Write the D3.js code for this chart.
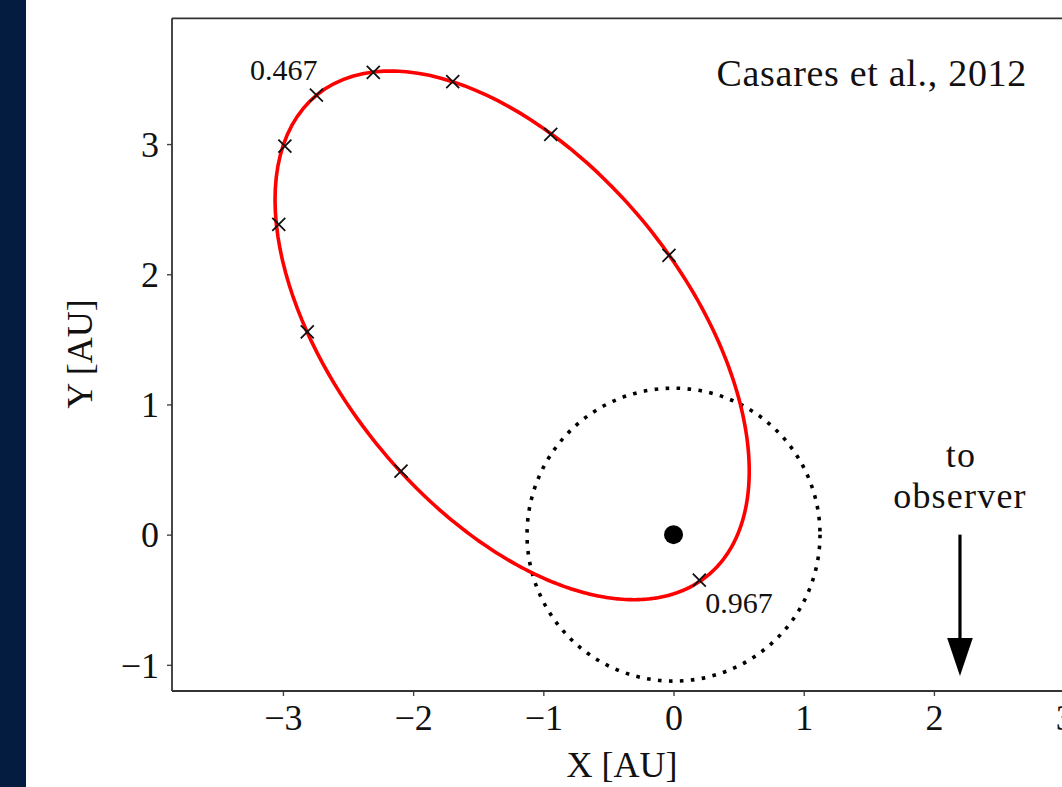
<!DOCTYPE html>
<html>
<head>
<meta charset="utf-8">
<script src="https://cdn.jsdelivr.net/npm/d3@7"></script>
<style>
  body { margin: 0; background: #ffffff; overflow: hidden; }
  svg { display: block; }
  text { font-family: "Liberation Serif", "Times New Roman", serif; fill: #111; }
</style>
</head>
<body>
<svg id="chart" width="1062" height="787"></svg>
<script>
// Orbital elements of the binary (Casares et al., 2012)
const semiMajorAxis = 2.379;      // AU
const eccentricity = 0.828;
const periastronAngleDeg = -51;   // direction of periastron in the X–Y plane
const dottedCircleRadius = 1.125; // AU, centred on the star

// Orbital phase markers (every 0.1 in phase)
const markerPhase = [0.067, 0.167, 0.267, 0.367, 0.467, 0.567, 0.667, 0.767, 0.867, 0.967];
const markerX = [-0.035, -0.943, -1.696, -2.306, -2.743, -2.985, -3.032, -2.813, -2.093, 0.198];
const markerY = [2.145, 3.074, 3.479, 3.551, 3.376, 2.985, 2.383, 1.558, 0.488, -0.349];
const labelledPhases = ["0.467", "0.967"];

// Star position and observer direction
const starX = 0, starY = 0;
const observerArrowX = 2.2, observerArrowY0 = 0, observerArrowY1 = -1.085;

// Axes
const xTicks = [-3, -2, -1, 0, 1, 2, 3];
const yTicks = [-1, 0, 1, 2, 3];
const xDomain = [-3.852, 3.6];
const yDomain = [-1.201, 3.966];
const xLabel = "X [AU]", yLabel = "Y [AU]";
const sourceNote = "Casares et al., 2012";

const svg = d3.select("#chart");

// left page band
svg.append("rect").attr("x", 0).attr("y", 0).attr("width", 26).attr("height", 787).attr("fill", "#031c3f");

const plotLeft = 172, plotTop = 18.3, plotBottom = 691;
const pxPerAU = 130.2;
const x = d3.scaleLinear().domain(xDomain).range([plotLeft, plotLeft + pxPerAU * (xDomain[1] - xDomain[0])]);
const y = d3.scaleLinear().domain(yDomain).range([plotBottom, plotTop]);

const fmt = d => d < 0 ? "\u2212" + Math.abs(d) : String(d);

// axes
const xAxis = svg.append("g").attr("transform", `translate(0,${plotBottom})`)
  .call(d3.axisBottom(x).tickValues(xTicks).tickFormat(fmt).tickSize(5).tickSizeOuter(0).tickPadding(8));
const yAxis = svg.append("g").attr("transform", `translate(${plotLeft},0)`)
  .call(d3.axisLeft(y).tickValues(yTicks).tickFormat(fmt).tickSize(5).tickSizeOuter(0).tickPadding(8));
[xAxis, yAxis].forEach(g => {
  g.select(".domain").remove();
  g.selectAll(".tick line").attr("stroke", "#444").attr("stroke-width", 1.4);
  g.selectAll(".tick text").attr("font-size", 36).attr("fill", "#111")
    .style("font-family", "'Liberation Serif', serif");
});
yAxis.selectAll(".tick text").attr("dy", "0.34em");

// spines
const spines = svg.append("g").attr("stroke", "#333").attr("stroke-width", 1.8).attr("fill", "none");
spines.append("line").attr("x1", plotLeft).attr("x2", 1062).attr("y1", plotTop).attr("y2", plotTop);
spines.append("line").attr("x1", plotLeft).attr("x2", plotLeft).attr("y1", plotTop).attr("y2", plotBottom);
spines.append("line").attr("x1", plotLeft).attr("x2", 1062).attr("y1", plotBottom).attr("y2", plotBottom);

// dotted circle around the star
svg.append("ellipse")
  .attr("cx", x(starX)).attr("cy", y(starY))
  .attr("rx", x(dottedCircleRadius) - x(0)).attr("ry", y(0) - y(dottedCircleRadius))
  .attr("fill", "none").attr("stroke", "#000").attr("stroke-width", 3.6)
  .attr("stroke-dasharray", "3.6 7.4");

// Keplerian orbit: r(nu) = a(1-e^2)/(1+e cos nu), star at the focus
const w = periastronAngleDeg * Math.PI / 180;
const nu = d3.range(0, 361, 1).map(d => d * Math.PI / 180);
const orbit = nu.map(v => {
  const r = semiMajorAxis * (1 - eccentricity * eccentricity) / (1 + eccentricity * Math.cos(v));
  return [starX + r * Math.cos(v + w), starY + r * Math.sin(v + w)];
});
svg.append("path")
  .attr("d", d3.line().x(d => x(d[0])).y(d => y(d[1])).curve(d3.curveLinearClosed)(orbit))
  .attr("fill", "none").attr("stroke", "#ff0000").attr("stroke-width", 3.6);

// phase markers
const s = 6.5;
svg.append("g").selectAll("path").data(markerPhase).join("path")
  .attr("transform", (d, i) => `translate(${x(markerX[i])},${y(markerY[i])})`)
  .attr("d", `M${-s},${-s}L${s},${s}M${-s},${s}L${s},${-s}`)
  .attr("stroke", "#111").attr("stroke-width", 1.8);

// phase labels
const labelAt = p => markerPhase.findIndex(d => d.toFixed(3) === p);
const iA = labelAt(labelledPhases[0]);
svg.append("text").attr("x", x(markerX[iA]) + 1).attr("y", y(markerY[iA]) - 15)
  .attr("text-anchor", "end").attr("font-size", 30).text(labelledPhases[0]);
const iP = labelAt(labelledPhases[1]);
svg.append("text").attr("x", x(markerX[iP]) + 6).attr("y", y(markerY[iP]) + 33)
  .attr("text-anchor", "start").attr("font-size", 30).text(labelledPhases[1]);

// star
svg.append("circle").attr("cx", x(starX)).attr("cy", y(starY)).attr("r", 9.5).attr("fill", "#000");

// arrow towards the observer
const headLen = 38, headHalf = 12.8;
const ax = x(observerArrowX), ay0 = y(observerArrowY0), ay1 = y(observerArrowY1);
svg.append("line").attr("x1", ax).attr("x2", ax).attr("y1", ay0).attr("y2", ay1 - headLen + 2)
  .attr("stroke", "#000").attr("stroke-width", 3.2);
svg.append("path")
  .attr("d", `M${ax - headHalf},${ay1 - headLen}L${ax + headHalf},${ay1 - headLen}L${ax},${ay1}Z`)
  .attr("fill", "#000");
svg.append("text").attr("x", 961).attr("y", 467).attr("text-anchor", "middle")
  .attr("font-size", 36).attr("letter-spacing", 1.2).text("to");
svg.append("text").attr("x", 960).attr("y", 508).attr("text-anchor", "middle")
  .attr("font-size", 36).attr("letter-spacing", 1.2).text("observer");

// source note
svg.append("text").attr("x", 1027).attr("y", 86).attr("text-anchor", "end")
  .attr("font-size", 38).attr("letter-spacing", 0.7).text(sourceNote);

// axis titles
svg.append("text").attr("x", 622).attr("y", 777).attr("text-anchor", "middle").attr("font-size", 36).text(xLabel);
svg.append("text").attr("transform", "translate(92,354) rotate(-90)").attr("text-anchor", "middle")
  .attr("font-size", 36).text(yLabel);
</script>
</body>
</html>
